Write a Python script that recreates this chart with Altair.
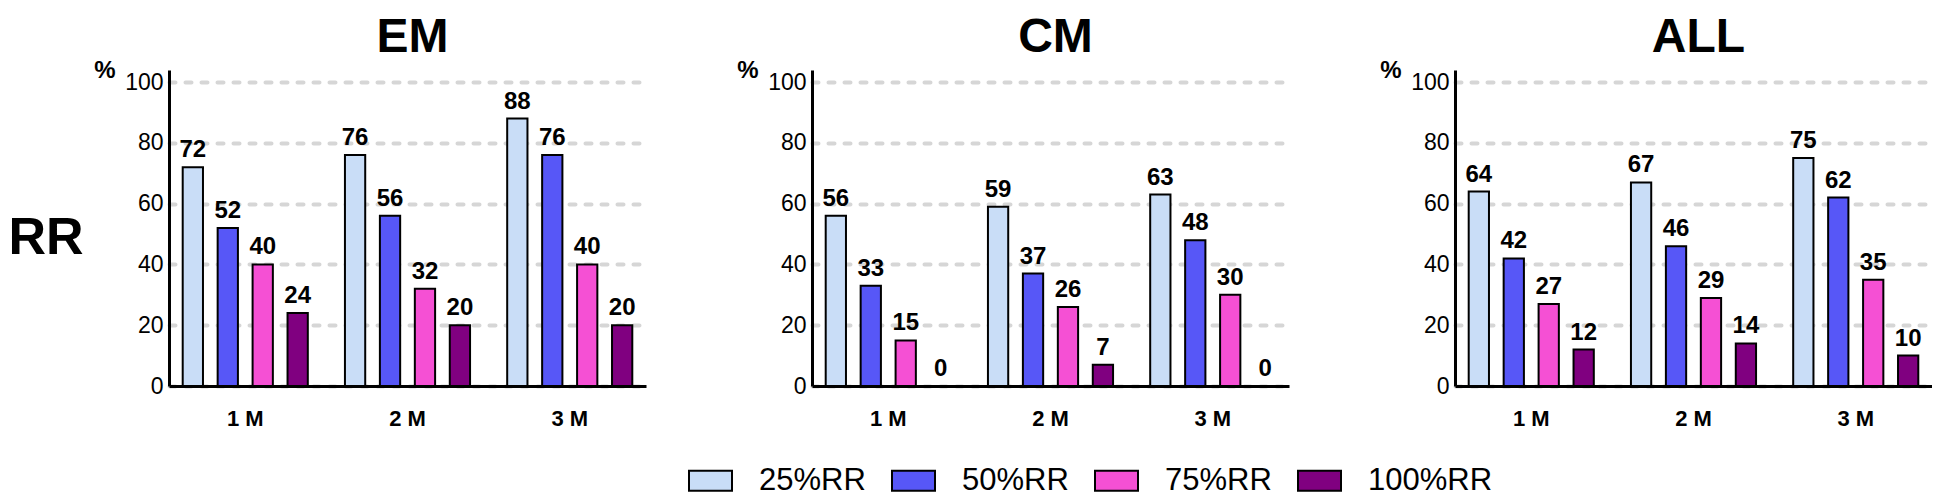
import altair as alt
import pandas as pd

panels = ["EM", "CM", "ALL"]
periods = ["1 M", "2 M", "3 M"]
series = ["25%RR", "50%RR", "75%RR", "100%RR"]
colors = ["#c9ddf7", "#5757f7", "#f550d4", "#800080"]
row_label = ["RR"]

em_25 = [72, 76, 88]
em_50 = [52, 56, 76]
em_75 = [40, 32, 40]
em_100 = [24, 20, 20]

cm_25 = [56, 59, 63]
cm_50 = [33, 37, 48]
cm_75 = [15, 26, 30]
cm_100 = [0, 7, 0]

all_25 = [64, 67, 75]
all_50 = [42, 46, 62]
all_75 = [27, 29, 35]
all_100 = [12, 14, 10]

y_ticks = [0, 20, 40, 60, 80, 100]

values = {
    "EM": [em_25, em_50, em_75, em_100],
    "CM": [cm_25, cm_50, cm_75, cm_100],
    "ALL": [all_25, all_50, all_75, all_100],
}

rows = []
for p in panels:
    for s, vals in zip(series, values[p]):
        for per, v in zip(periods, vals):
            rows.append({"panel": p, "period": per, "series": s, "value": v})
df = pd.DataFrame(rows)

FONT = "Liberation Sans"
W = 477
H = 316


def panel(name):
    base = alt.Chart(df).transform_filter(alt.datum.panel == name)
    x = alt.X(
        "period:N",
        sort=periods,
        scale=alt.Scale(paddingInner=0.16, paddingOuter=0.05),
        axis=alt.Axis(
            title=None, labelAngle=0, labelFontSize=22, labelFontWeight="bold",
            labelFont=FONT, labelColor="black", labelPadding=22,
            ticks=False, tickSize=0, domainColor="black", domainWidth=3, grid=False,
        ),
    )
    xo = alt.XOffset(
        "series:N", sort=series,
        scale=alt.Scale(paddingInner=0.42, paddingOuter=0.16),
    )
    y = alt.Y(
        "value:Q",
        scale=alt.Scale(domain=[0, 104], nice=False, zero=True),
        axis=alt.Axis(
            values=y_ticks, title="%", titleAngle=0, titleAlign="right",
            titleBaseline="alphabetic", titleX=-54, titleY=7,
            titleFontSize=24, titleFontWeight="bold", titleFont=FONT, titleColor="black",
            labelFontSize=23, labelFont=FONT, labelColor="black", labelPadding=6,
            ticks=False, tickSize=0, domainColor="black", domainWidth=3,
            grid=True, gridColor="#d6d6d6", gridWidth=4, gridDash=[6, 10], gridCap="round",
        ),
    )
    color = alt.Color(
        "series:N", sort=series,
        scale=alt.Scale(domain=series, range=colors),
        legend=alt.Legend(
            title=None, orient="none", legendX=680, legendY=388,
            direction="horizontal",
            symbolType="M-1,-0.465H1V0.465H-1Z", symbolSize=1849,
            symbolStrokeColor="black", symbolStrokeWidth=2, symbolOpacity=1,
            labelFontSize=31, labelFont=FONT, labelColor="black",
            labelOffset=26, columnPadding=22, padding=0, labelLimit=300,
        ),
    )
    bars = base.mark_bar(stroke="black", strokeWidth=2).encode(
        x=x, xOffset=xo, y=y, color=color
    )
    labels = base.mark_text(
        font=FONT, fontSize=24, fontWeight="bold", baseline="alphabetic",
        dy=-10, color="black",
    ).encode(x=x, xOffset=xo, y=y, text="value:Q")
    return alt.layer(bars, labels).properties(
        width=W, height=H,
        title=alt.TitleParams(
            name, fontSize=48, fontWeight="bold", font=FONT, offset=-4,
            anchor="middle", frame="group", dx=5, color="black",
        ),
    )


rr = alt.Chart(pd.DataFrame({"t": row_label})).mark_text(
    font=FONT, fontSize=52, fontWeight="bold", align="center",
    baseline="middle", dy=10, color="black",
).encode(text="t:N").properties(width=76, height=H)

chart = alt.hconcat(
    rr,
    alt.hconcat(panel("EM"), panel("CM"), panel("ALL"), spacing=90),
    spacing=9,
).properties(
    padding={"top": 6, "left": 0, "right": 0, "bottom": 0}
).configure_view(stroke=None)

chart.save("out.html", embed_options={"renderer": "svg", "actions": False})
